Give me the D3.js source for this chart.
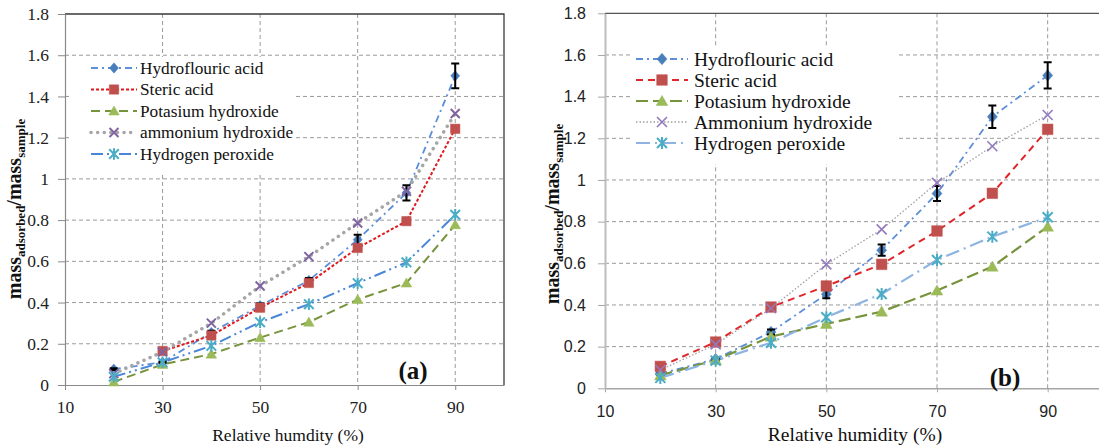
<!DOCTYPE html>
<html>
<head>
<meta charset="utf-8">
<script src="https://cdn.jsdelivr.net/npm/d3@7"></script>
<style>
  html, body { margin: 0; padding: 0; background: #fff; }
  svg { display: block; }
</style>
</head>
<body>
<svg id="chart" width="1099" height="448"></svg>
<script>
// Relative humidity levels (%) and axis ticks
const humidity = [20, 30, 40, 50, 60, 70, 80, 90];
const xTicks = [10, 30, 50, 70, 90];
const yTicks = [0, 0.2, 0.4, 0.6, 0.8, 1, 1.2, 1.4, 1.6, 1.8];

// Panel (a): adsorbed mass ratio per treatment
const hfA     = [0.077, 0.11, 0.255, 0.385, 0.507, 0.705, 0.932, 1.50];
const hfErrA  = [0.004, 0.004, 0.008, 0.01, 0.012, 0.024, 0.037, 0.06];
const stericA = [null, 0.165, 0.24, 0.375, 0.495, 0.665, 0.795, 1.243];
const kohA    = [0.015, 0.10, 0.15, 0.23, 0.305, 0.415, 0.495, 0.778];
const nh4ohA  = [0.055, 0.16, 0.30, 0.48, 0.623, 0.786, 0.94, 1.317];
const h2o2A   = [0.04, 0.11, 0.19, 0.305, 0.392, 0.494, 0.595, 0.826];
const namesA  = ["Hydroflouric acid", "Steric acid", "Potasium hydroxide", "ammonium hydroxide", "Hydrogen peroxide"];

// Panel (b)
const hfB     = [0.07, 0.14, 0.27, 0.452, 0.663, 0.935, 1.303, 1.502];
const hfErrB  = [0.005, 0.006, 0.012, 0.02, 0.027, 0.036, 0.054, 0.063];
const stericB = [0.105, 0.222, 0.39, 0.491, 0.595, 0.755, 0.936, 1.243];
const kohB    = [0.062, 0.136, 0.248, 0.309, 0.368, 0.469, 0.584, 0.776];
const nh4ohB  = [0.088, 0.211, 0.384, 0.595, 0.763, 0.986, 1.162, 1.312];
const h2o2B   = [0.05, 0.133, 0.219, 0.341, 0.453, 0.616, 0.728, 0.821];
const namesB  = ["Hydroflouric acid", "Steric acid", "Potasium hydroxide", "Ammonium hydroxide", "Hydrogen peroxide"];

const SERIF = "Liberation Serif, Times New Roman, serif";
const SANS = "Liberation Sans, Arial, sans-serif";
// serif text is set at a fixed base size and scaled to the wanted size
const BASE = 20;

const svg = d3.select("#chart");

// place a serif text at (x, y) with an effective size
function serifText(parent, x, y, size, str) {
  const k = size / BASE;
  return parent.append("text")
    .attr("transform", `translate(${x},${y}) scale(${k})`)
    .style("font-family", SERIF).style("font-size", BASE + "px")
    .attr("fill", "#111").text(str);
}

// marker shapes
function markerPath(kind, s) {
  switch (kind) {
    case "diamond": return `M0,${-s*1.15}L${s},0L0,${s*1.15}L${-s},0Z`;
    case "square": return `M${-s},${-s}H${s}V${s}H${-s}Z`;
    case "triangle": return `M0,${-s*1.05}L${s*1.1},${s*0.85}L${-s*1.1},${s*0.85}Z`;
    case "x": return `M${-s},${-s}L${s},${s}M${-s},${s}L${s},${-s}`;
    case "star": return `M${-s},${-s}L${s},${s}M${-s},${s}L${s},${-s}M0,${-s*1.2}V${s*1.2}`;
  }
}

function drawMarker(g, kind, cx, cy, st) {
  const filled = kind === "diamond" || kind === "square" || kind === "triangle";
  g.append("path")
    .attr("d", markerPath(kind, st.size))
    .attr("transform", `translate(${cx},${cy})`)
    .attr("fill", filled ? st.marker : "none")
    .attr("stroke", st.marker)
    .attr("stroke-width", filled ? 0.5 : st.markerStroke || 2);
}

function panel(cfg) {
  const g = svg.append("g");
  const x = d3.scaleLinear().domain([10, 100]).range([cfg.left, cfg.right]);
  const y = d3.scaleLinear().domain([0, 1.8]).range([cfg.bottom, cfg.top]);

  // dashed grid
  g.append("g").selectAll("line").data(yTicks.filter(v => v > 0 && v < 1.8)).join("line")
    .attr("x1", cfg.left).attr("x2", cfg.right)
    .attr("y1", d => y(d)).attr("y2", d => y(d))
    .attr("stroke", "#9a9a9a").attr("stroke-width", 1).attr("stroke-dasharray", "4,3");
  g.append("g").selectAll("line").data(xTicks.filter(v => v > 10)).join("line")
    .attr("x1", d => x(d)).attr("x2", d => x(d))
    .attr("y1", cfg.top).attr("y2", cfg.bottom)
    .attr("stroke", "#9a9a9a").attr("stroke-width", 1).attr("stroke-dasharray", "4,3");

  // frame on top and right
  g.append("path")
    .attr("d", `M${cfg.left},${cfg.top}H${cfg.right}V${cfg.bottom}`)
    .attr("fill", "none").attr("stroke", cfg.frameColor).attr("stroke-width", 1.3);

  // axes
  const fmt = d => String(+d.toFixed(1));
  const ax = g.append("g").attr("transform", `translate(0,${cfg.bottom})`)
    .call(d3.axisBottom(x).tickValues(xTicks).tickSize(cfg.xTickSize).tickPadding(cfg.xTickPad).tickSizeOuter(0).tickFormat(fmt));
  const ay = g.append("g").attr("transform", `translate(${cfg.left},0)`)
    .call(d3.axisLeft(y).tickValues(yTicks).tickSize(7).tickPadding(cfg.yTickPad).tickSizeOuter(0).tickFormat(fmt));
  [ax, ay].forEach(a => {
    a.selectAll(".tick line").attr("stroke", cfg.tickColor);
    a.selectAll("text").attr("fill", "#222").each(function () {
      const t = d3.select(this);
      if (cfg.tickFont === SERIF) {
        const k = cfg.tickSize / BASE;
        t.style("font-family", SERIF).style("font-size", BASE + "px")
          .attr("x", (+t.attr("x") || 0) / k).attr("y", (+t.attr("y") || 0) / k)
          .attr("transform", `scale(${k})`);
      } else {
        t.style("font-family", cfg.tickFont).style("font-size", cfg.tickSize + "px");
      }
    });
  });
  ax.select(".domain").attr("stroke", cfg.xAxisColor).attr("stroke-width", cfg.xAxisWidth);
  ay.select(".domain").attr("stroke", cfg.yAxisColor).attr("stroke-width", cfg.yAxisWidth);

  // series lines
  cfg.series.forEach(s => {
    const pts = humidity.map((h, i) => ({ h, v: s.values[i] })).filter(d => d.v != null);
    const line = d3.line().x(d => x(d.h)).y(d => y(d.v));
    g.append("path").datum(pts).attr("d", line)
      .attr("fill", "none").attr("stroke", s.color).attr("stroke-width", s.width)
      .attr("stroke-dasharray", s.dash).attr("stroke-linecap", s.cap || "butt");
  });
  // markers and error bars
  cfg.series.forEach(s => {
    const mg = g.append("g");
    humidity.forEach((h, i) => {
      if (s.values[i] == null) return;
      drawMarker(mg, s.kind, x(h), y(s.values[i]), s);
    });
    if (s.err) {
      const eg = g.append("g");
      humidity.forEach((h, i) => {
        const v = s.values[i], e = s.err[i];
        const cx = x(h), y1 = y(v + e), y2 = y(v - e);
        eg.append("path")
          .attr("d", `M${cx},${y1}V${y2}M${cx - 4},${y1}H${cx + 4}M${cx - 4},${y2}H${cx + 4}`)
          .attr("stroke", "#000").attr("stroke-width", 2).attr("fill", "none");
      });
    }
  });

  // legend
  const L = cfg.legend;
  const lg = g.append("g");
  lg.append("rect").attr("x", L.x0).attr("y", L.y0)
    .attr("width", L.x1 - L.x0).attr("height", L.y1 - L.y0).attr("fill", "#fff");
  cfg.series.forEach((s, i) => {
    const cy = L.rowY + i * L.rowGap;
    lg.append("line").attr("x1", L.lx0).attr("x2", L.lx1)
      .attr("y1", cy).attr("y2", cy)
      .attr("stroke", s.color).attr("stroke-width", s.width)
      .attr("stroke-dasharray", s.dash).attr("stroke-linecap", s.cap || "butt");
    drawMarker(lg, s.kind, (L.lx0 + L.lx1) / 2, cy, s);
    serifText(lg, L.tx, cy, L.font, cfg.names[i]).attr("dy", "0.34em");
  });

  // axis titles
  serifText(g, cfg.xTitle.x, cfg.xTitle.y, cfg.xTitle.size, cfg.xTitle.text).attr("text-anchor", "middle");

  const yt = g.append("text")
    .attr("transform", `translate(${cfg.yTitle.x},${cfg.yTitle.y}) rotate(-90)`)
    .attr("text-anchor", "middle").style("font-family", SERIF).attr("font-weight", "bold")
    .style("font-size", cfg.yTitle.size + "px").attr("fill", "#111");
  yt.append("tspan").text("mass");
  yt.append("tspan").style("font-size", cfg.yTitle.sub + "px").attr("dy", 4).text("adsorbed");
  yt.append("tspan").attr("dy", -4).text("/mass");
  yt.append("tspan").style("font-size", cfg.yTitle.sub + "px").attr("dy", 4).text("sample");

  // panel tag
  g.append("text").attr("x", cfg.tag.x).attr("y", cfg.tag.y).attr("text-anchor", "middle")
    .style("font-family", SERIF).attr("font-weight", "bold").style("font-size", "25px").attr("fill", "#111")
    .text(cfg.tag.text);
}

// panel (a)
panel({
  left: 65, right: 504, top: 14, bottom: 385,
  frameColor: "#3a3a3a", xAxisColor: "#8a8a8a", yAxisColor: "#8a8a8a", xAxisWidth: 1.2, yAxisWidth: 1.2,
  tickColor: "#8a8a8a", tickFont: SERIF, tickSize: 17.5, xTickSize: 5, xTickPad: 11, yTickPad: 9,
  names: namesA,
  series: [
    { values: hfA, err: hfErrA, color: "#5b8fd8", width: 1.8, dash: "7,4,2,4", kind: "diamond", marker: "#4a7ebb", size: 4.5 },
    { values: stericA, color: "#e0191f", width: 2, dash: "3,2", kind: "square", marker: "#c0504d", size: 4.7 },
    { values: kohA, color: "#77933c", width: 2, dash: "9,5", kind: "triangle", marker: "#9bbb59", size: 4.8 },
    { values: nh4ohA, color: "#a6a6a6", width: 3.5, dash: "0.1,6.5", cap: "round", kind: "x", marker: "#8064a2", size: 4.5 },
    { values: h2o2A, color: "#4a86d8", width: 2, dash: "12,4,2,4,2,4", kind: "star", marker: "#4bacc6", size: 4.8 }
  ],
  legend: { x0: 70, x1: 294, y0: 57, y1: 173, rowY: 68, rowGap: 21.5, lx0: 91, lx1: 137, tx: 140, font: 17.3 },
  xTitle: { x: 288, y: 441, size: 17.5, text: "Relative humdity (%)" },
  yTitle: { x: 21, y: 209, size: 20, sub: 13 },
  tag: { x: 413, y: 379, text: "(a)" }
});

// panel (b)
panel({
  left: 605, right: 1103, top: 13.3, bottom: 388.3,
  frameColor: "#555", xAxisColor: "#a6a6a6", yAxisColor: "#bdbdbd", xAxisWidth: 1.5, yAxisWidth: 2,
  tickColor: "#a6a6a6", tickFont: SANS, tickSize: 16, xTickSize: 4, xTickPad: 13, yTickPad: 12,
  names: namesB,
  series: [
    { values: hfB, err: hfErrB, color: "#5b8fd8", width: 1.8, dash: "7,4,2,4", kind: "diamond", marker: "#4a7ebb", size: 5 },
    { values: stericB, color: "#e0262b", width: 2, dash: "7,5", kind: "square", marker: "#c0504d", size: 5.3 },
    { values: kohB, color: "#77933c", width: 2.2, dash: "12,5", kind: "triangle", marker: "#9bbb59", size: 5.3 },
    { values: nh4ohB, color: "#a0a0a0", width: 1.3, dash: "1.5,2", kind: "x", marker: "#9379bd", size: 5, markerStroke: 1.6 },
    { values: h2o2B, color: "#8db4e2", width: 2.2, dash: "14,5,2,5", kind: "star", marker: "#4bacc6", size: 5 }
  ],
  legend: { x0: 630, x1: 898, y0: 46, y1: 164, rowY: 59, rowGap: 21, lx0: 636, lx1: 688, tx: 694, font: 19.5 },
  xTitle: { x: 855, y: 441, size: 19.5, text: "Relative humidity (%)" },
  yTitle: { x: 559, y: 214, size: 20, sub: 13 },
  tag: { x: 1005, y: 386, text: "(b)" }
});
</script>
</body>
</html>
